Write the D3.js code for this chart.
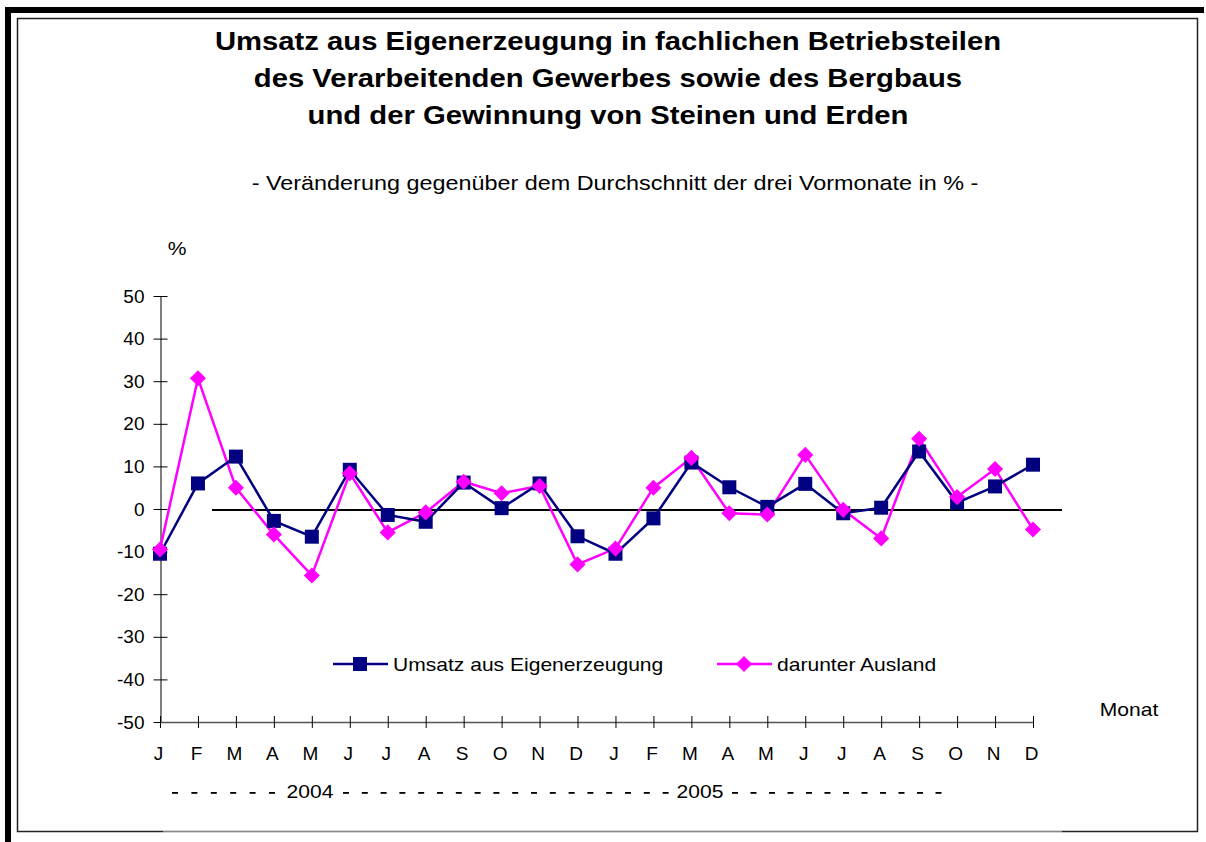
<!DOCTYPE html>
<html>
<head>
<meta charset="utf-8">
<script src="https://cdn.jsdelivr.net/npm/d3@7"></script>
<style>
    body { margin: 0; background: #fff; }
    svg { font-family: "Liberation Sans", Arial, Helvetica, sans-serif; }
</style>
</head>
<body>
<div id="chart-container"></div>
<script>
const months = ["J", "F", "M", "A", "M", "J", "J", "A", "S", "O", "N", "D",
                "J", "F", "M", "A", "M", "J", "J", "A", "S", "O", "N", "D"];
const umsatz = [-10.5, 6.0, 12.3, -2.8, -6.5, 9.2, -1.4, -3.0, 6.2, 0.2, 6.0, -6.4,
                -10.5, -2.2, 10.9, 5.1, 0.5, 5.9, -1.0, 0.3, 13.5, 1.5, 5.3, 10.4];
const ausland = [-9.5, 30.7, 5.0, -6.0, -15.6, 8.4, -5.5, -0.8, 6.4, 3.7, 5.4, -13.0,
                 -9.3, 5.0, 12.0, -1.0, -1.3, 12.7, -0.2, -6.9, 16.5, 2.8, 9.4, -4.8];
const yTicks = [-50, -40, -30, -20, -10, 0, 10, 20, 30, 40, 50];
const seriesNames = ["Umsatz aus Eigenerzeugung", "darunter Ausland"];
const years = ["2004", "2005"];
const titleLines = [
    "Umsatz aus Eigenerzeugung in fachlichen Betriebsteilen",
    "des Verarbeitenden Gewerbes sowie des Bergbaus",
    "und der Gewinnung von Steinen und Erden"
];
const subtitle = "- Veränderung gegenüber dem Durchschnitt der drei Vormonate in % -";

const svgW = 1206;
const svgH = 842;
const navy = "#000080";
const magenta = "#ff00ff";
const sx = 1.17; // the original text is drawn a bit wide

const svg = d3.select("#chart-container")
    .append("svg")
    .attr("width", svgW)
    .attr("height", svgH);

// text with horizontal stretch
const addText = (str, x, y, size, anchor, weight) => svg.append("text")
    .text(str)
    .attr("transform", `translate(${x}, ${y}) scale(${sx}, 1)`)
    .style("text-anchor", anchor || "start")
    .style("font-weight", weight || "normal")
    .style("font-size", size + "px");

// frame: heavy black edge top/left, thin box inside
svg.append("rect").attr("x", 5).attr("y", 7).attr("width", 1199).attr("height", 6).attr("fill", "#000");
svg.append("rect").attr("x", 5).attr("y", 7).attr("width", 6).attr("height", 835).attr("fill", "#000");
svg.append("rect")
    .attr("x", 17.5).attr("y", 18.5).attr("width", 1180).attr("height", 813)
    .attr("fill", "none").attr("stroke", "#222").attr("stroke-width", 1.5);
svg.append("line")
    .attr("x1", 163).attr("x2", 1062).attr("y1", 831.5).attr("y2", 831.5)
    .attr("stroke", "#fff").attr("stroke-width", 1.6);
svg.append("line")
    .attr("x1", 163).attr("x2", 1062).attr("y1", 831.5).attr("y2", 831.5)
    .attr("stroke", "#888").attr("stroke-width", 1);

// titles
titleLines.forEach((t, i) => addText(t, 608, 50 + i * 37, 25, "middle", "bold"));
addText(subtitle, 615, 190, 20, "middle");

const xScale = d3.scalePoint()
    .domain(d3.range(months.length))
    .range([160, 1033]);

const yScale = d3.scaleLinear()
    .domain([-50, 50])
    .range([722, 296]);

const axisColor = "#555";

const yAxis = svg.append("g")
    .attr("transform", "translate(160.5, 0)")
    .call(d3.axisLeft(yScale).tickValues(yTicks).tickFormat(d => String(d))
        .tickSizeInner(7).tickSizeOuter(0).tickPadding(9));
yAxis.selectAll(".tick line").attr("x1", 7).attr("stroke", "#000");
yAxis.select(".domain").attr("stroke", axisColor).attr("stroke-width", 1.5);
yAxis.selectAll("text").style("font-size", "19px").attr("fill", "#000")
    .attr("font-family", "Liberation Sans, Arial, sans-serif");

const xAxis = svg.append("g")
    .attr("transform", "translate(0, 722)")
    .call(d3.axisBottom(xScale).tickFormat(i => months[i]).tickSizeInner(6).tickSizeOuter(0).tickPadding(19));
xAxis.selectAll(".tick line").attr("y1", -6).attr("stroke", "#000");
xAxis.select(".domain").attr("stroke", axisColor).attr("stroke-width", 1.5);
xAxis.selectAll("text").style("font-size", "19px").attr("fill", "#000")
    .attr("font-family", "Liberation Sans, Arial, sans-serif")
    .attr("dx", "-2px");

// zero reference line
svg.append("line")
    .attr("x1", 212).attr("x2", 1062)
    .attr("y1", yScale(0) + 1).attr("y2", yScale(0) + 1)
    .attr("stroke", "#000").attr("stroke-width", 2);

addText("%", 177, 255, 18, "middle");
addText("Monat", 1129, 716, 18, "middle");

// year row: dashes and the two years
const yearRow = svg.append("g").attr("transform", "translate(0, 798)");
const dashX = [];
for (let i = 0; i < 6; i++) dashX.push(175 + i * 19.4);
for (let i = 0; i < 18; i++) dashX.push(346 + i * 18.8);
for (let i = 0; i < 12; i++) dashX.push(735 + i * 18.5);
yearRow.selectAll(".dash")
    .data(dashX)
    .enter()
    .append("rect")
    .attr("class", "dash")
    .attr("x", d => d - 3)
    .attr("y", -6)
    .attr("width", 6)
    .attr("height", 1.8)
    .attr("fill", "#000");
yearRow.selectAll(".year")
    .data(years)
    .enter()
    .append("text")
    .attr("class", "year")
    .text(d => d)
    .attr("transform", (d, i) => `translate(${[310, 700][i]}, 0) scale(${sx}, 1)`)
    .style("text-anchor", "middle")
    .style("font-size", "18px");

const line = d3.line()
    .x((d, i) => xScale(i))
    .y(d => yScale(d));

const squareSym = d3.symbol().type(d3.symbolSquare).size(196);
const diamondSym = d3.symbol().type(d3.symbolSquare).size(130);

svg.append("path")
    .datum(ausland)
    .attr("d", line)
    .attr("fill", "none")
    .attr("stroke", magenta)
    .attr("stroke-width", 2.5);

svg.append("path")
    .datum(umsatz)
    .attr("d", line)
    .attr("fill", "none")
    .attr("stroke", navy)
    .attr("stroke-width", 2.5);

svg.selectAll(".sq")
    .data(umsatz)
    .enter()
    .append("path")
    .attr("class", "sq")
    .attr("d", squareSym)
    .attr("transform", (d, i) => `translate(${xScale(i)}, ${yScale(d)})`)
    .attr("fill", navy);

svg.selectAll(".dia")
    .data(ausland)
    .enter()
    .append("path")
    .attr("class", "dia")
    .attr("d", diamondSym)
    .attr("transform", (d, i) => `translate(${xScale(i)}, ${yScale(d)}) rotate(45)`)
    .attr("fill", magenta);

// legend
const legendItems = [
    {name: seriesNames[0], color: navy, x: 333, sym: squareSym, rot: 0},
    {name: seriesNames[1], color: magenta, x: 717, sym: diamondSym, rot: 45}
];

const legend = svg.append("g").attr("transform", "translate(0, 664)");

const item = legend.selectAll("g")
    .data(legendItems)
    .enter()
    .append("g")
    .attr("transform", d => `translate(${d.x}, 0)`);

item.append("line")
    .attr("x1", 0).attr("x2", 55)
    .attr("stroke", d => d.color)
    .attr("stroke-width", 2.5);

item.append("path")
    .attr("d", d => d.sym())
    .attr("transform", d => `translate(27, 0) rotate(${d.rot})`)
    .attr("fill", d => d.color);

item.append("text")
    .text(d => d.name)
    .attr("transform", `translate(60, 7) scale(${sx}, 1)`)
    .style("font-size", "18px");
</script>
</body>
</html>
